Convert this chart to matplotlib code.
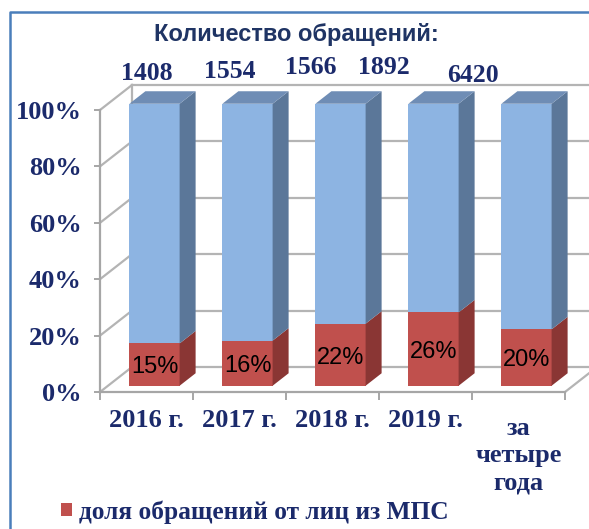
import numpy as np
import matplotlib.pyplot as plt
from matplotlib.collections import PolyCollection
from matplotlib.lines import Line2D
from matplotlib.transforms import ScaledTranslation

# данные
periods = ['2016 г.', '2017 г.', '2018 г.', '2019 г.', 'за\nчетыре\nгода']
counts = [1408, 1554, 1566, 1892, 6420]
share_mps = [15, 16, 22, 26, 20]
share_rest = [100 - v for v in share_mps]
legend_label = 'доля обращений от лиц из МПС'
title = 'Количество обращений:'

W, H = 589, 529
fig = plt.figure(figsize=(W / 100, H / 100), dpi=100)
fig.patch.set_facecolor('white')

def fx(px):
    return px / W

def fy(py):
    return 1 - py / H

# передняя плоскость диаграммы
ax = fig.add_axes([fx(100), fy(392), (565 - 100) / W, (392 - 110) / H])
ax.set_xlim(-0.5, 4.5)
ax.set_ylim(0, 100)
ax.patch.set_alpha(0)

# смещение "глубины" (псевдо-3D)
DX, DY = 32 / 93, 25 / 2.82
d0, d1 = 0.25, 0.75
bw = 0.54

grid_c = '#b4b4b4'
navy = '#1b2a6b'
serif = dict(family='Liberation Serif', weight='bold', color=navy)

# задняя стенка, левая стенка, пол
for v in range(0, 101, 20):
    ax.plot([-0.5 + DX, 4.5 + DX], [v + DY, v + DY], color=grid_c, lw=1.6,
            clip_on=False, zorder=1)
    ax.plot([-0.5, -0.5 + DX], [v, v + DY], color=grid_c, lw=1.6,
            clip_on=False, zorder=1)
ax.plot([-0.5 + DX, -0.5 + DX], [DY, 100 + DY], color=grid_c, lw=1.6,
        clip_on=False, zorder=1)
ax.plot([4.5, 4.5 + DX], [0, DY], color=grid_c, lw=1.6, clip_on=False, zorder=1)

x = np.arange(len(periods))
fx0 = x - bw / 2 + d0 * DX
base = d0 * DY

red_front, red_side = '#c0504d', '#8a3634'
blue_front, blue_side, blue_top = '#8db4e2', '#5b7799', '#6f8db5'

red_bars = ax.bar(x + d0 * DX, share_mps, width=bw, bottom=base, color=red_front,
                  clip_on=False, zorder=3, label=legend_label)
ax.bar(x + d0 * DX, share_rest, width=bw, bottom=np.array(share_mps) + base,
       color=blue_front, clip_on=False, zorder=3)

ddx, ddy = (d1 - d0) * DX, (d1 - d0) * DY
sides_red, sides_blue, tops = [], [], []
for xi, r in zip(fx0, share_mps):
    xr = xi + bw
    sides_red.append([(xr, base), (xr + ddx, base + ddy),
                      (xr + ddx, base + r + ddy), (xr, base + r)])
    sides_blue.append([(xr, base + r), (xr + ddx, base + r + ddy),
                       (xr + ddx, base + 100 + ddy), (xr, base + 100)])
    tops.append([(xi, base + 100), (xr, base + 100),
                 (xr + ddx, base + 100 + ddy), (xi + ddx, base + 100 + ddy)])
for polys, col in [(sides_red, red_side), (sides_blue, blue_side), (tops, blue_top)]:
    ax.add_collection(PolyCollection(polys, facecolors=col, edgecolors='none',
                                     clip_on=False, zorder=3))

# подписи долей
for xi, r in zip(x + d0 * DX, share_mps):
    ax.text(xi, base + r / 2 - 1, f'{r}%', ha='center', va='center', fontsize=17,
            family='Liberation Sans', color='black', zorder=5)

# оси
for s in ['top', 'right']:
    ax.spines[s].set_visible(False)
for s in ['left', 'bottom']:
    ax.spines[s].set_color('#a6a6a6')
    ax.spines[s].set_linewidth(1.6)
ax.set_yticks(range(0, 101, 20))
ax.set_yticklabels([f'{v}%' for v in range(0, 101, 20)], fontsize=19, **serif)
ax.tick_params(axis='y', length=4, width=1.4, color='#a6a6a6', pad=9)
ax.set_xticks(x)
ax.set_xticklabels(periods, fontsize=19, linespacing=1.25, **serif)
ax.set_xticks(np.arange(-0.5, 5, 1), minor=True)
ax.tick_params(axis='x', which='major', length=0, pad=12)
ax.tick_params(axis='x', which='minor', length=6, width=1.4, color='#a6a6a6')

# последняя подпись в три строки чуть ниже остальных
last = ax.get_xticklabels()[-1]
last.set_transform(last.get_transform() +
                   ScaledTranslation(0, -0.08, fig.dpi_scale_trans))

# заголовок и количество обращений
fig.text(fx(296), fy(35), title, ha='center', va='center', fontsize=17,
         family='Liberation Sans', weight='bold', color='#1f3464')
count_pos = [(147, 73), (230, 72), (311, 68), (384, 68), (473, 75)]
for c, (px, py) in zip(counts, count_pos):
    fig.text(fx(px), fy(py), str(c), ha='center', va='center', fontsize=18.5, **serif)

# легенда
leg = fig.legend(handles=[red_bars], loc='center left',
                 bbox_to_anchor=(fx(61), fy(512)), frameon=False,
                 borderpad=0, borderaxespad=0, handlelength=0.42,
                 handleheight=0.42, handletextpad=0.3,
                 prop=dict(family='Liberation Serif', weight='bold', size=18.3))
for t in leg.get_texts():
    t.set_color(navy)

# рамка
fig.add_artist(Line2D([fx(10), fx(10), 1], [0, fy(12), fy(12)],
                      color='#4a7ebb', lw=1.8))

fig.savefig('out.png', dpi=100)
